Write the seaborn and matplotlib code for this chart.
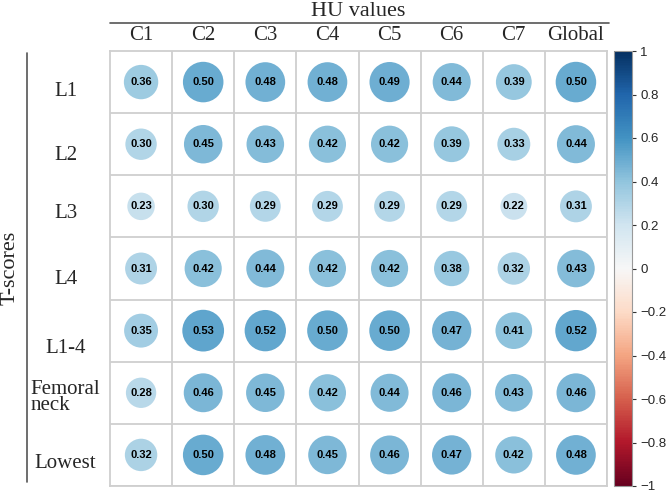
import numpy as np
import pandas as pd
import matplotlib
matplotlib.use('Agg')
import matplotlib.pyplot as plt
import matplotlib.transforms as mtransforms
from matplotlib.lines import Line2D
from matplotlib.ticker import FuncFormatter
import seaborn as sns

sns.set_style('white')
plt.rcParams['font.family'] = ['Liberation Sans', 'DejaVu Sans']

# data
hu_cols = ['C1', 'C2', 'C3', 'C4', 'C5', 'C6', 'C7', 'Global']
t_rows = ['L1', 'L2', 'L3', 'L4', 'L1-4', 'Femoral\nneck', 'Lowest']
r_l1 = [0.36, 0.50, 0.48, 0.48, 0.49, 0.44, 0.39, 0.50]
r_l2 = [0.30, 0.45, 0.43, 0.42, 0.42, 0.39, 0.33, 0.44]
r_l3 = [0.23, 0.30, 0.29, 0.29, 0.29, 0.29, 0.22, 0.31]
r_l4 = [0.31, 0.42, 0.44, 0.42, 0.42, 0.38, 0.32, 0.43]
r_l14 = [0.35, 0.53, 0.52, 0.50, 0.50, 0.47, 0.41, 0.52]
r_fem = [0.28, 0.46, 0.45, 0.42, 0.44, 0.46, 0.43, 0.46]
r_low = [0.32, 0.50, 0.48, 0.45, 0.46, 0.47, 0.42, 0.48]
cbar_ticks = [-1, -0.8, -0.6, -0.4, -0.2, 0, 0.2, 0.4, 0.6, 0.8, 1]

mat = [r_l1, r_l2, r_l3, r_l4, r_l14, r_fem, r_low]
df = pd.DataFrame([
    {'col': j, 'row': i, 'r': v}
    for i, vals in enumerate(mat) for j, v in enumerate(vals)
])

W, H = 669, 492
fig = plt.figure(figsize=(W / 100, H / 100), dpi=100)
ax = fig.add_axes([110 / W, 6 / H, 497 / W, 435 / H])

sns.scatterplot(data=df, x='col', y='row', hue='r', size='r',
                palette='RdBu', hue_norm=(-1, 1), size_norm=(0, 1),
                sizes=(0, 1704), linewidth=0, legend=False, ax=ax)

for _, rw in df.iterrows():
    ax.text(rw['col'], rw['row'], f"{rw['r']:.2f}", ha='center', va='center',
            fontsize=8, fontweight='bold', color='black')

ax.set_xlim(-0.5, len(hu_cols) - 0.5)
ax.set_ylim(len(t_rows) - 0.5, -0.5)
ax.set_xlabel('')
ax.set_ylabel('')

# cell grid
ax.set_xticks(np.arange(len(hu_cols)) + 0.5, minor=True)
ax.set_yticks(np.arange(len(t_rows)) + 0.5, minor=True)
ax.grid(which='minor', color='#cfcfcf', lw=1.3)
ax.grid(which='major', visible=False)
for s in ax.spines.values():
    s.set_color('#cfcfcf')
    s.set_linewidth(1.3)
ax.tick_params(which='both', length=0)

ax.xaxis.tick_top()
ax.set_xticks(range(len(hu_cols)))
ax.set_xticklabels(hu_cols, fontsize=15, family=['Liberation Serif'])
ax.tick_params(axis='x', pad=4)

ax.set_yticks(range(len(t_rows)))
ylabs = ax.set_yticklabels(t_rows, fontsize=15, family=['Liberation Serif'],
                           ha='center', linespacing=0.8)
ax.tick_params(axis='y', pad=32)
shift_px = [7, 9, 5, 9, 15, 4, 6]
for lab, dy in zip(ylabs, shift_px):
    if '\n' in lab.get_text():
        lab.set_multialignment('left')
    lab.set_transform(lab.get_transform() +
                      mtransforms.ScaledTranslation(0, -dy / 100, fig.dpi_scale_trans))

# headers
fig.text(358 / W, 1 - 12 / H, 'HU values', ha='center', va='center',
         fontsize=16, family=['Liberation Serif'])
fig.add_artist(Line2D([110 / W, 609 / W], [1 - 23 / H, 1 - 23 / H],
                      color='#555555', lw=1.2))
fig.text(10 / W, 1 - 268 / H, 'T-scores', ha='center', va='center',
         rotation=90, fontsize=16, family=['Liberation Serif'])
fig.add_artist(Line2D([27 / W, 27 / W], [1 - 53 / H, 1 - 482 / H],
                      color='#555555', lw=1.2))

# colorbar
cax = fig.add_axes([614 / W, 6 / H, 18 / W, 435 / H])
sm = plt.cm.ScalarMappable(norm=plt.Normalize(-1, 1), cmap='RdBu')
cb = fig.colorbar(sm, cax=cax, ticks=cbar_ticks)
cb.outline.set_edgecolor('#999999')
cb.outline.set_linewidth(0.8)
cb.ax.yaxis.set_major_formatter(
    FuncFormatter(lambda t, _: f"{round(t, 1):g}".replace('-', '\u2212')))
cb.ax.tick_params(length=3, width=0.8, color='#333333', pad=3, labelsize=9.5)

fig.savefig('out.png', dpi=100)
